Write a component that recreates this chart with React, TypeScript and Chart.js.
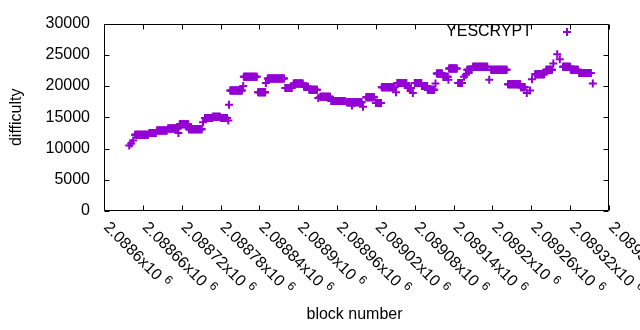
import React, { useEffect, useRef } from "react";
import { Chart, registerables } from "chart.js";

Chart.register(...registerables);

// Difficulty readings: constant runs of blocks (start block, end block, difficulty)
const runStartBlock = [
  2088639, 2088642, 2088645, 2088648, 2088670, 2088682, 2088699, 2088715, 2088717, 2088731,
  2088753, 2088756, 2088768, 2088781, 2088792, 2088793, 2088795, 2088815, 2088816, 2088838,
  2088850, 2088853, 2088880, 2088893, 2088909, 2088917, 2088931, 2088934, 2088951, 2088975,
  2088983, 2089000, 2089005, 2089020, 2089029, 2089051, 2089053, 2089069, 2089077, 2089080,
  2089091, 2089100, 2089112, 2089114, 2089124, 2089132, 2089133, 2089147, 2089156, 2089159,
  2089161, 2089170, 2089195, 2089198, 2089224, 2089244, 2089253, 2089258, 2089261, 2089266,
  2089283, 2089294, 2089300, 2089304, 2089309, 2089321, 2089334, 2089355,
];
const runEndBlock = [
  2088639, 2088642, 2088645, 2088668, 2088680, 2088697, 2088714, 2088715, 2088730, 2088751,
  2088753, 2088767, 2088779, 2088790, 2088792, 2088793, 2088813, 2088815, 2088836, 2088849,
  2088850, 2088878, 2088890, 2088907, 2088915, 2088929, 2088931, 2088949, 2088972, 2088998,
  2088983, 2089000, 2089017, 2089028, 2089049, 2089051, 2089067, 2089074, 2089077, 2089090,
  2089099, 2089110, 2089112, 2089122, 2089131, 2089132, 2089145, 2089153, 2089156, 2089159,
  2089168, 2089192, 2089195, 2089222, 2089243, 2089250, 2089253, 2089258, 2089261, 2089280,
  2089292, 2089294, 2089300, 2089304, 2089320, 2089332, 2089352, 2089355,
];
const runDifficulty = [
  10500, 10800, 11300, 12200, 12500, 12900, 13200, 12500, 13900, 13100,
  14200, 14900, 15100, 14900, 14500, 17000, 19300, 20000, 21500, 19000,
  20500, 21200, 19700, 20400, 19900, 19400, 18100, 18300, 17600, 17400,
  16900, 16700, 18200, 17300, 19800, 19000, 20500, 19700, 18900, 20500,
  20000, 19400, 20400, 22000, 21500, 21000, 22800, 20500, 21500, 21800,
  22600, 23100, 21000, 22600, 20300, 19800, 18900, 19300, 21100, 21900,
  22600, 23600, 25100, 24300, 23100, 22600, 22100, 20400,
];

const seriesName = "YESCRYPT";
const xMin = 2088600;
const xMax = 2089380;
const xStep = 60;
const yMin = 0;
const yMax = 30000;
const yStep = 5000;
const xTitle = "block number";
const yTitle = "difficulty";

const COLOR = "#9400d3";
const FONT = '"Liberation Sans", Arial, sans-serif';

function buildPoints() {
  const pts: { x: number; y: number }[] = [];
  for (let i = 0; i < runStartBlock.length; i++) {
    for (let b = runStartBlock[i]; b <= runEndBlock[i]; b++) {
      pts.push({ x: b, y: runDifficulty[i] });
    }
  }
  return pts;
}

function formatTick(v: number) {
  return parseFloat((v / 1e6).toFixed(6)).toString();
}

const decorPlugin = {
  id: "decor",
  afterDraw(chart: any) {
    const ctx = chart.ctx;
    const ca = chart.chartArea;
    const xs = chart.scales.x;
    const ys = chart.scales.y;
    const L = Math.round(ca.left) + 0.5;
    const R = Math.round(ca.right) - 0.5;
    const T = Math.round(ca.top) + 0.5;
    const B = Math.round(ca.bottom) - 0.5;
    ctx.save();
    ctx.strokeStyle = "#000";
    ctx.lineWidth = 1;
    ctx.beginPath();
    ctx.rect(L, T, R - L, B - T);
    ctx.stroke();
    const tl = 5;
    ctx.beginPath();
    xs.ticks.forEach((t: any) => {
      const px = Math.round(xs.getPixelForValue(t.value)) + 0.5;
      ctx.moveTo(px, B);
      ctx.lineTo(px, B - tl);
      ctx.moveTo(px, T);
      ctx.lineTo(px, T + tl);
    });
    ys.ticks.forEach((t: any) => {
      const py = Math.round(ys.getPixelForValue(t.value)) + 0.5;
      ctx.moveTo(L, py);
      ctx.lineTo(L + tl, py);
      ctx.moveTo(R, py);
      ctx.lineTo(R - tl, py);
    });
    ctx.stroke();

    // rotated x tick labels
    ctx.fillStyle = "#000";
    xs.ticks.forEach((t: any) => {
      const px = xs.getPixelForValue(t.value);
      const main = formatTick(t.value) + "x10";
      ctx.save();
      ctx.translate(px + 2, ca.bottom + 14);
      ctx.rotate(Math.PI / 4);
      ctx.font = `16px ${FONT}`;
      ctx.textAlign = "left";
      ctx.textBaseline = "middle";
      ctx.fillText(main, 0, 0);
      const w = ctx.measureText(main).width;
      ctx.font = `12px ${FONT}`;
      ctx.fillText("6", w + 5, -5);
      ctx.restore();
    });

    // axis titles
    ctx.font = `16px ${FONT}`;
    ctx.textAlign = "center";
    ctx.textBaseline = "middle";
    ctx.fillText(xTitle, (ca.left + ca.right) / 2 - 2, 315);
    ctx.save();
    ctx.translate(17, (ca.top + ca.bottom) / 2);
    ctx.rotate(-Math.PI / 2);
    ctx.fillText(yTitle, 0, 0);
    ctx.restore();

    // legend
    ctx.textAlign = "right";
    ctx.fillText(seriesName, 532, 32);
    ctx.strokeStyle = COLOR;
    ctx.lineWidth = 2;
    ctx.beginPath();
    ctx.moveTo(563, 32);
    ctx.lineTo(571, 32);
    ctx.moveTo(567, 28);
    ctx.lineTo(567, 36);
    ctx.stroke();
    ctx.restore();
  },
};

export default function App() {
  const ref = useRef<HTMLCanvasElement>(null);
  useEffect(() => {
    if (!ref.current) return;
    const chart = new Chart(ref.current, {
      type: "scatter",
      data: {
        datasets: [
          {
            label: seriesName,
            data: buildPoints(),
            pointStyle: "cross",
            pointRadius: 4,
            pointBorderWidth: 2,
            borderColor: COLOR,
            backgroundColor: COLOR,
            pointHoverRadius: 4,
          },
        ],
      },
      options: {
        animation: false,
        responsive: false,
        maintainAspectRatio: false,
        events: [],
        layout: { padding: { left: 0, top: 19, right: 31, bottom: 0 } },
        plugins: { legend: { display: false }, tooltip: { enabled: false } },
        scales: {
          x: {
            type: "linear",
            min: xMin,
            max: xMax,
            ticks: { stepSize: xStep, display: false },
            grid: { display: false },
            border: { display: false },
            afterFit: (s: any) => {
              s.height = 119;
            },
          },
          y: {
            type: "linear",
            min: yMin,
            max: yMax,
            ticks: {
              stepSize: yStep,
              color: "#000",
              padding: 14,
              font: { family: FONT, size: 16 },
              callback: (v: any) => String(v),
            },
            grid: { display: false, drawTicks: false },
            border: { display: false },
            afterFit: (s: any) => {
              s.width = 104;
            },
          },
        },
      },
      plugins: [decorPlugin],
    });
    return () => chart.destroy();
  }, []);
  return (
    <div style={{ position: "fixed", left: 0, top: 0, width: 640, height: 330, background: "#fff" }}>
      <canvas ref={ref} width={640} height={330} style={{ width: 640, height: 330 }} />
    </div>
  );
}
